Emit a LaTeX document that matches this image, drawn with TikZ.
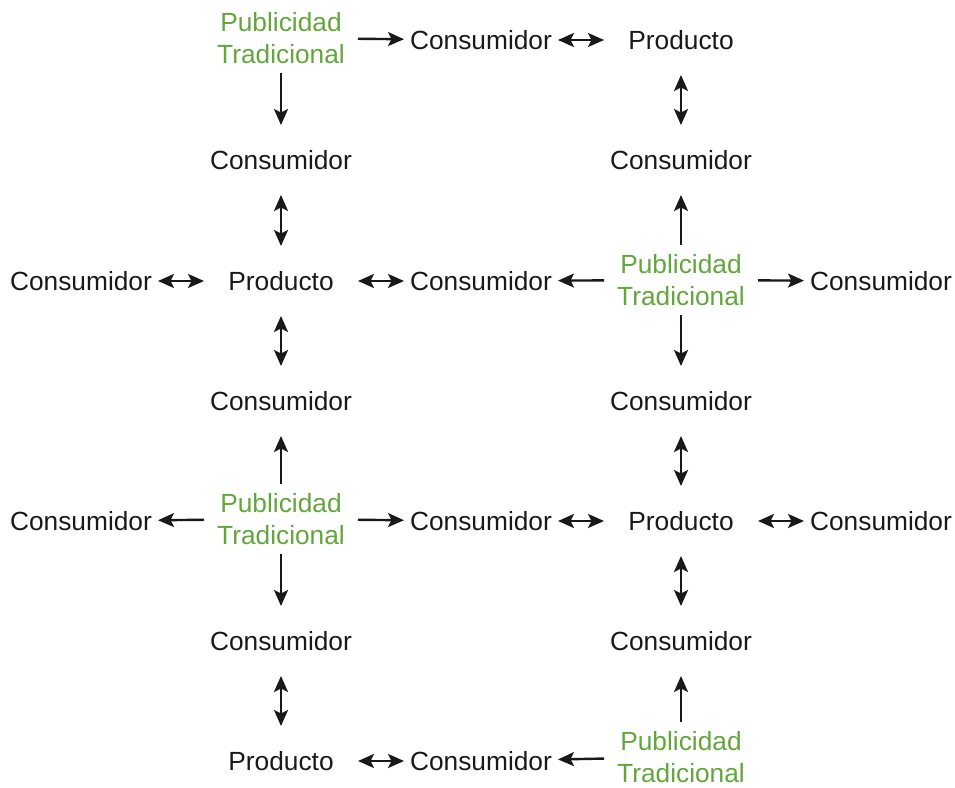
\documentclass[tikz,border=0pt]{standalone}
\usepackage{fontspec}
\setmainfont{Liberation Sans}
\usetikzlibrary{arrows.meta}
\definecolor{pubgreen}{RGB}{98,166,60}
\begin{document}
\begin{tikzpicture}[x=1pt,y=-1pt,
  every node/.style={inner sep=0pt,font=\fontsize{26.3}{32}\selectfont},
  cons/.style={text=black!90},
  pub/.style={text=pubgreen,align=center},
  tip/.tip={Stealth[length=16pt,width=14pt,inset=3.5pt]},
  arr/.style={line width=2.4pt,-tip,draw=black!90},
  darr/.style={line width=2.4pt,tip-tip,draw=black!90},
  hs/.style={shorten <=77pt,shorten >=77pt},
  vs/.style={shorten <=35pt,shorten >=35pt}]
\useasboundingbox (0,0) rectangle (955,787);
% row 1
\node[pub] (p1) at (281,38) {Publicidad\\Tradicional};
\node[cons] (c1a) at (481,40) {Consumidor};
\node[cons] (pr1) at (681,40) {Producto};
% row 2
\node[cons] (c2a) at (281,160) {Consumidor};
\node[cons] (c2b) at (681,160) {Consumidor};
% row 3
\node[cons] (c3a) at (81,281) {Consumidor};
\node[cons] (pr2) at (281,281) {Producto};
\node[cons] (c3b) at (481,281) {Consumidor};
\node[pub] (p2) at (681,280) {Publicidad\\Tradicional};
\node[cons] (c3c) at (881,281) {Consumidor};
% row 4
\node[cons] (c4a) at (281,401) {Consumidor};
\node[cons] (c4b) at (681,401) {Consumidor};
% row 5
\node[cons] (c5a) at (81,521) {Consumidor};
\node[pub] (p3) at (281,519) {Publicidad\\Tradicional};
\node[cons] (c5b) at (481,521) {Consumidor};
\node[cons] (pr3) at (681,521) {Producto};
\node[cons] (c5c) at (881,521) {Consumidor};
% row 6
\node[cons] (c6a) at (281,641) {Consumidor};
\node[cons] (c6b) at (681,641) {Consumidor};
% row 7
\node[cons] (pr4) at (281,761) {Producto};
\node[cons] (c7a) at (481,761) {Consumidor};
\node[pub] (p4) at (681,757) {Publicidad\\Tradicional};
% arrows
\draw[arr,hs] (p1.center) -- (c1a.center);
\draw[darr,hs] (c1a.center) -- (pr1.center);
\draw[arr,vs] (p1.center) -- (c2a.center);
\draw[darr,vs] (pr1.center) -- (c2b.center);
\draw[darr,vs] (c2a.center) -- (pr2.center);
\draw[arr,vs] (p2.center) -- (c2b.center);
\draw[darr,hs] (c3a.center) -- (pr2.center);
\draw[darr,hs] (pr2.center) -- (c3b.center);
\draw[arr,hs] (p2.center) -- (c3b.center);
\draw[arr,hs] (p2.center) -- (c3c.center);
\draw[darr,vs] (pr2.center) -- (c4a.center);
\draw[arr,vs] (p2.center) -- (c4b.center);
\draw[arr,vs] (p3.center) -- (c4a.center);
\draw[darr,vs] (c4b.center) -- (pr3.center);
\draw[arr,hs] (p3.center) -- (c5a.center);
\draw[arr,hs] (p3.center) -- (c5b.center);
\draw[darr,hs] (c5b.center) -- (pr3.center);
\draw[darr,hs] (pr3.center) -- (c5c.center);
\draw[arr,vs] (p3.center) -- (c6a.center);
\draw[darr,vs] (pr3.center) -- (c6b.center);
\draw[darr,vs] (c6a.center) -- (pr4.center);
\draw[arr,vs] (p4.center) -- (c6b.center);
\draw[darr,hs] (pr4.center) -- (c7a.center);
\draw[arr,hs] (p4.center) -- (c7a.center);
\end{tikzpicture}
\end{document}
